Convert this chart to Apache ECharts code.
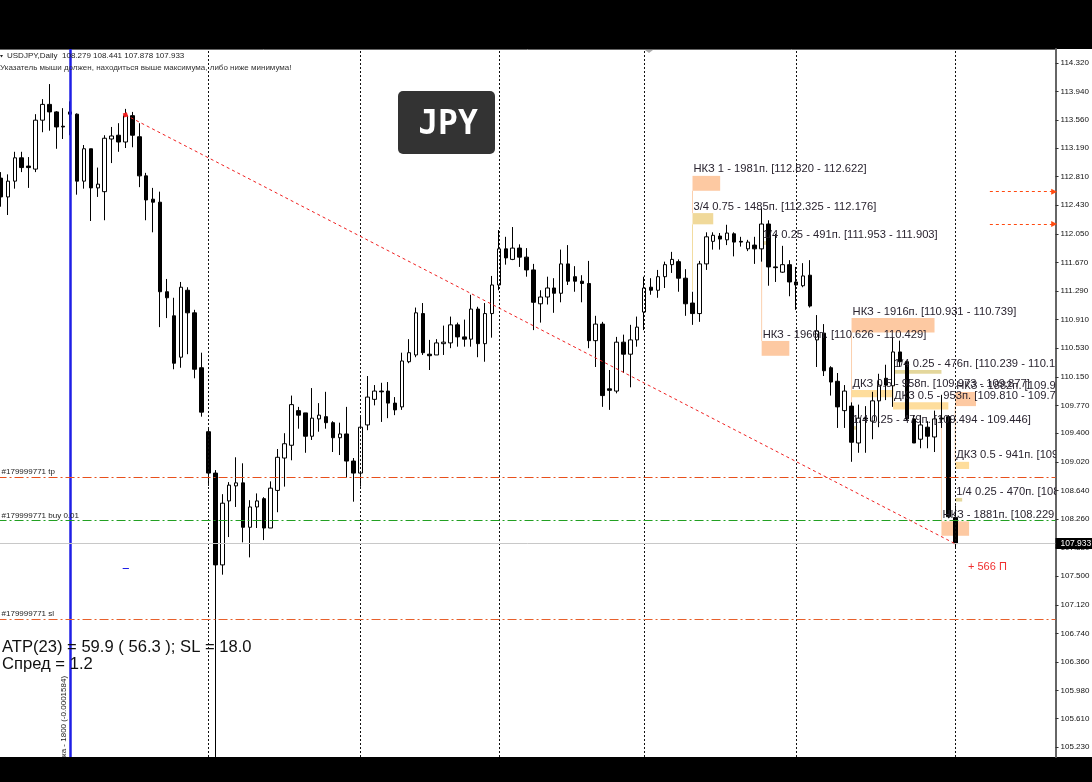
<!DOCTYPE html>
<html>
<head>
<meta charset="utf-8">
<title>USDJPY Daily</title>
<style>
  html, body { margin: 0; padding: 0; background: #000; }
  #chart { width: 1092px; height: 782px; }
</style>
<script src="https://cdn.jsdelivr.net/npm/echarts@6/dist/echarts.min.js"></script>
</head>
<body>
<div id="chart"></div>
<script>
// daily bars
var opens = [112.79,112.54,112.75,113.06,112.95,112.91,113.56,113.77,113.67,113.48,113.67,113.64,112.75,113.18,112.66,112.61,113.31,113.36,113.27,113.62,
  113.34,112.82,112.51,112.47,111.28,110.96,110.41,111.30,111.00,110.27,109.42,108.87,107.65,108.50,108.70,108.74,108.15,108.42,108.53,108.14,
  108.64,109.07,109.24,109.70,109.67,109.36,109.59,109.62,109.54,109.34,109.39,109.03,108.87,109.51,109.85,109.96,109.96,109.80,109.75,110.35,
  110.44,110.99,110.45,110.44,110.59,110.60,110.84,110.68,110.65,111.05,110.59,110.99,111.37,111.85,111.71,111.86,111.74,111.57,111.12,111.21,
  111.33,111.26,111.65,111.48,111.42,111.39,110.63,110.85,109.99,109.96,110.61,110.45,110.64,111.01,111.34,111.30,111.48,111.64,111.68,111.46,
  111.13,110.99,111.65,111.95,112.02,111.97,112.05,111.95,111.85,111.90,111.85,112.18,111.61,111.54,111.64,111.41,111.36,111.50,110.64,110.73,
  110.27,110.09,109.70,109.76,109.27,109.60,109.56,109.83,110.13,110.03,110.48,110.35,109.59,109.32,109.48,109.35,109.60,109.62,108.279];
var closes = [112.54,112.75,113.06,112.93,112.93,113.56,113.77,113.67,113.47,113.47,113.64,112.75,113.18,112.66,112.71,113.32,113.35,113.27,113.62,113.36,
  112.82,112.50,112.47,111.28,111.20,110.33,111.34,111.00,110.25,109.68,108.87,107.65,108.47,108.71,108.74,108.15,108.42,108.50,108.14,108.67,
  109.08,109.26,109.78,109.64,109.36,109.60,109.64,109.54,109.34,109.39,109.03,108.87,109.48,109.88,109.96,109.95,109.80,109.71,110.36,110.47,
  111.00,110.47,110.43,110.60,110.61,110.84,110.68,110.65,111.05,110.59,110.99,111.37,111.85,111.73,111.86,111.74,111.57,111.14,111.21,111.33,
  111.26,111.65,111.42,111.42,111.39,110.63,110.85,109.90,109.97,110.61,110.45,110.64,110.81,111.33,111.30,111.48,111.64,111.71,111.46,111.12,
  110.99,111.65,112.01,112.03,111.98,112.06,111.94,111.94,111.94,111.85,112.18,111.61,111.60,111.64,111.41,111.37,111.49,111.09,110.76,110.23,
  110.08,109.75,109.96,109.28,109.60,109.59,109.83,110.04,110.04,110.48,110.35,109.59,109.27,109.51,109.36,109.59,109.59,108.29,107.933];
var highs = [112.87,112.84,113.14,113.14,113.07,113.64,113.84,114.04,113.68,113.72,113.81,113.65,113.23,113.18,112.93,113.36,113.47,113.52,113.71,113.67,
  113.52,112.86,112.66,112.61,111.45,111.20,111.41,111.34,111.04,110.47,109.48,108.91,108.59,108.75,109.08,109.00,108.51,108.60,108.55,108.76,
  109.19,109.40,109.90,109.75,109.67,110.00,109.80,109.95,109.56,109.54,109.75,109.07,109.62,110.16,110.04,110.07,110.08,109.88,110.47,110.65,
  111.07,111.13,110.64,110.65,110.83,110.95,110.87,110.91,111.24,111.08,111.13,111.49,112.10,112.01,112.14,111.91,111.86,111.65,111.30,111.48,
  111.46,111.84,111.90,111.62,111.50,111.69,110.96,110.88,110.24,110.68,110.71,110.84,110.95,111.48,111.46,111.57,111.68,111.81,111.71,111.58,
  111.28,111.69,112.07,112.07,112.06,112.17,112.07,112.01,111.97,112.01,112.39,112.23,112.05,111.89,111.70,111.61,111.66,111.70,110.97,110.85,
  110.29,110.20,110.04,109.81,109.78,109.76,109.95,110.19,110.31,110.68,110.63,110.36,109.64,109.64,109.56,109.70,109.91,109.64,108.441];
var lows = [112.41,112.30,112.65,112.87,112.66,112.87,113.40,113.42,113.18,113.31,113.36,112.57,112.65,112.22,112.54,112.23,112.99,113.14,113.19,113.20,
  112.67,112.23,112.07,110.81,110.93,110.25,110.27,110.45,110.13,109.62,108.70,104.88,107.52,108.02,108.42,107.95,107.75,108.14,107.98,108.14,
  108.35,108.69,109.04,109.46,109.14,109.31,109.42,109.46,109.15,109.11,108.81,108.49,108.69,109.44,109.77,109.55,109.60,109.64,109.71,110.33,
  110.41,110.44,110.24,110.44,110.44,110.53,110.55,110.55,110.55,110.41,110.35,110.67,111.30,111.64,111.70,111.61,111.48,110.77,110.87,111.11,
  111.00,111.14,111.37,111.28,111.14,110.53,110.28,109.75,109.71,109.93,110.20,110.01,110.55,110.77,111.24,111.20,111.33,111.53,111.28,110.96,
  110.84,110.88,111.57,111.84,111.84,111.90,111.75,111.88,111.82,111.65,111.68,111.36,111.41,111.53,111.22,111.04,111.34,111.07,110.28,110.16,
  109.90,109.47,109.47,109.02,109.14,109.14,109.32,109.48,109.84,109.75,110.28,109.57,109.27,109.20,109.20,109.15,109.47,108.27,107.878];

var barCount = 153;
var categories = [];
for (var b = 0; b < barCount; b++) categories.push(String(b));

var tickLabels = [114.32,113.94,113.56,113.19,112.81,112.43,112.05,111.67,111.29,110.91,110.53,110.15,109.77,
  109.40,109.02,108.64,108.26,107.88,107.50,107.12,106.74,106.36,105.98,105.61,105.23];

// month separators and the blue marker, in bars
var monthBars = [30,52,72,93,115,138];
var markerBar = 10;

// order levels
var tpPrice = 108.82, buyPrice = 108.24, slPrice = 106.93, bidPrice = 107.933;

// zones
var zoneStarts = [100,100,110,110,123,129,123,138,129,123,138,138,136];
var zoneEnds   = [104,103,111,114,135,136,129,141,137,124,140,139,140];
var zoneTops    = [112.820,112.325,111.953,110.626,110.931,110.239,109.973,109.948,109.810,109.494,109.020,108.540,108.229];
var zoneBottoms = [112.622,112.176,111.903,110.429,110.739,110.191,109.877,109.760,109.714,109.446,108.925,108.492,108.037];
var zoneColors = ['#fdc9a2','#f0d99a','#e9dba6','#fdc9a2','#fdc9a2','#e4d79c','#fedd9c','#fdc9a2','#fedd9c','#e4d79c','#fedd9c','#e4d79c','#fdc9a2'];
var zoneLabels = [
  'НКЗ 1 - 1981п. [112.820 - 112.622]',
  '3/4 0.75 - 1485п. [112.325 - 112.176]',
  '1/4 0.25 - 491п. [111.953 - 111.903]',
  'НКЗ - 1966п. [110.626 - 110.429]',
  'НКЗ - 1916п. [110.931 - 110.739]',
  '1/4 0.25 - 476п. [110.239 - 110.191]',
  'ДКЗ 0.5 - 958п. [109.973 - 109.877]',
  'НКЗ - 1882п. [109.948 - 109.760]',
  'ДКЗ 0.5 - 953п. [109.810 - 109.714]',
  '1/4 0.25 - 479п. [109.494 - 109.446]',
  'ДКЗ 0.5 - 941п. [109.020 - 108.925]',
  '1/4 0.25 - 470п. [108.540 - 108.492]',
  'НКЗ - 1881п. [108.229 - 108.037]'
];

// thin lines tying zones together
var linkBars    = [100,100,110,123,129,136,138];
var linkTops    = [112.622,112.176,111.903,110.739,110.191,109.60,109.760];
var linkBottoms = [112.325,111.30,110.626,109.60,109.810,108.229,109.020];
var linkColors  = ['#fbd0ae','#f2dca0','#fbd0ae','#fbd0ae','#fbdcb0','#fbd0ae','#fbd0ae'];

var trendBars = [18,138], trendPrices = [113.63,107.93];
var targetPrices = [112.61,112.18];
var targetBars = [143,152.3];
var blueDashBars = [17.6,18.5], blueDashPrice = 107.61;

function vLine(x, color, width, dash) {
  return { xAxis: x, lineStyle: { color: color, width: width, type: dash } };
}
function orderLine(price, color, text) {
  return {
    yAxis: price,
    lineStyle: { color: color, width: 1, type: [9,3,2,3] },
    label: { show: true, position: 'insideStartTop', formatter: text, color: '#222', fontSize: 8, distance: 1,
      fontFamily: 'Liberation Sans', padding: [0,0,0,3] }
  };
}

var markLines = [];
monthBars.forEach(function (m) { markLines.push(vLine(m, '#111', 1, [2,2])); });
markLines.push(vLine(markerBar, '#1f1fe6', 2.5, 'solid'));
markLines.push(orderLine(tpPrice, '#e8501c', '#179999771 tp'));
markLines.push(orderLine(buyPrice, '#22a022', '#179999771 buy 0.01'));
markLines.push(orderLine(slPrice, '#e8602c', '#179999771 sl'));
markLines.push({
  yAxis: bidPrice,
  lineStyle: { color: '#c8c8c8', width: 1, type: 'solid' },
  label: { show: true, position: 'end', distance: 0, formatter: bidPrice.toFixed(3), color: '#fff', backgroundColor: '#000',
    fontSize: 8.5, fontFamily: 'Liberation Sans', padding: [1,6,1,5] }
});
markLines.push([
  { coord: [trendBars[0], trendPrices[0]], symbol: 'diamond', symbolSize: 6, lineStyle: { color: '#f02020', width: 1, type: [3,3] }, itemStyle: { color: '#f02020' } },
  { coord: [trendBars[1], trendPrices[1]], symbol: 'none' }
]);
targetPrices.forEach(function (p) {
  markLines.push([
    { coord: [targetBars[0], p], symbol: 'none', lineStyle: { color: '#ff4a10', width: 1, type: [3,3] }, itemStyle: { color: '#ff4a10' } },
    { coord: [targetBars[1], p], symbol: 'triangle', symbolSize: 6 }
  ]);
});
markLines.push([
  { coord: [blueDashBars[0], blueDashPrice], symbol: 'none', lineStyle: { color: '#1f1fe6', width: 1, type: 'solid' } },
  { coord: [blueDashBars[1], blueDashPrice], symbol: 'none' }
]);

var chart = echarts.init(document.getElementById('chart'), null, { renderer: 'canvas' });

var option = {
  animation: false,
  backgroundColor: '#000',
  grid: { left: -2.46, top: 49, width: 1058, height: 708, containLabel: false, outerBoundsMode: 'none' },
  xAxis: [
    { type: 'category', data: categories, position: 'top', boundaryGap: true,
      axisLine: { show: true, lineStyle: { color: '#666', width: 1 } }, axisTick: { show: false }, axisLabel: { show: false }, splitLine: { show: false } },
    { type: 'value', min: -0.5, max: barCount - 0.5, show: false, splitLine: { show: false } }
  ],
  yAxis: {
    type: 'value', position: 'right', min: 105.097, max: 114.506,
    axisLine: { show: true, onZero: false, lineStyle: { color: '#666', width: 2 } },
    axisTick: { show: true, length: 3, customValues: tickLabels, lineStyle: { color: '#333' } },
    axisLabel: { customValues: tickLabels, margin: 5, fontSize: 8, color: '#111', fontFamily: 'Liberation Sans',
      formatter: function (v) { return v.toFixed(3); } },
    splitLine: { show: false }
  },
  series: [
    {
      type: 'custom', name: 'links', xAxisIndex: 1, z: 1, clip: true, silent: true,
      data: linkBars.map(function (x, i) { return [x, linkTops[i]]; }),
      renderItem: function (params, api) {
        var i = params.dataIndex;
        var a = api.coord([linkBars[i], linkTops[i]]);
        var c = api.coord([linkBars[i], linkBottoms[i]]);
        return { type: 'line', shape: { x1: a[0], y1: a[1], x2: c[0], y2: c[1] }, style: { stroke: linkColors[i], lineWidth: 1 } };
      }
    },
    {
      type: 'custom', name: 'zones', xAxisIndex: 1, z: 1, clip: true, silent: true,
      data: zoneStarts.map(function (x, i) { return [x, zoneTops[i]]; }),
      renderItem: function (params, api) {
        var i = params.dataIndex;
        var a = api.coord([zoneStarts[i], zoneTops[i]]);
        var c = api.coord([zoneEnds[i], zoneBottoms[i]]);
        return { type: 'rect', shape: { x: a[0], y: a[1], width: c[0] - a[0], height: c[1] - a[1] }, style: { fill: zoneColors[i] } };
      }
    },
    {
      type: 'candlestick', name: 'USDJPY', xAxisIndex: 0, z: 2, barWidth: 4, silent: true,
      data: opens.map(function (o, i) { return [o, closes[i], lows[i], highs[i]]; }),
      itemStyle: { color: '#fff', color0: '#000', borderColor: '#000', borderColor0: '#000', borderWidth: 1 }
    },
    {
      type: 'custom', name: 'zone labels', xAxisIndex: 1, z: 6, clip: true, silent: true,
      data: zoneStarts.map(function (x, i) { return [x, zoneTops[i]]; }),
      renderItem: function (params, api) {
        var i = params.dataIndex;
        var a = api.coord([zoneStarts[i], zoneTops[i]]);
        return { type: 'text', style: { x: a[0] + 1, y: a[1] - 1, text: zoneLabels[i], fill: '#2a2430',
          font: '11.2px "Liberation Sans"', textAlign: 'left', textVerticalAlign: 'bottom' } };
      },
      markLine: { silent: true, symbol: 'none', animation: false, precision: 3, label: { show: false }, data: markLines }
    }
  ],
  graphic: { elements: [
    { type: 'rect', z: -10, silent: true, shape: { x: 0, y: 49, width: 1092, height: 708 }, style: { fill: '#fff' } },
    { type: 'polygon', z: 21, silent: true, shape: { points: [[645,50],[653,50],[649,53]] }, style: { fill: '#aaa' } },
    { type: 'polygon', z: 21, silent: true, shape: { points: [[0,55],[3,55],[1.5,57.5]] }, style: { fill: '#222' } },
    { type: 'rect', z: 20, silent: true, shape: { x: 398, y: 91, width: 97, height: 63, r: 5 }, style: { fill: '#333' } },
    { type: 'text', z: 21, silent: true, x: 448, y: 125, style: { text: 'JPY', fill: '#fff', font: 'bold 33px "DejaVu Sans Mono"', textAlign: 'center', textVerticalAlign: 'middle' } },
    { type: 'text', z: 21, silent: true, x: 7, y: 56, style: { text: 'USDJPY,Daily  108.279 108.441 107.878 107.933', fill: '#222', font: '8px "Liberation Sans"', textVerticalAlign: 'middle' } },
    { type: 'text', z: 21, silent: true, x: 0, y: 67.5, style: { text: 'Указатель мыши должен, находиться выше максимума, либо ниже минимума!', fill: '#333', font: '8px "Liberation Sans"', textVerticalAlign: 'middle' } },
    { type: 'text', z: 21, silent: true, x: 2, y: 647, style: { text: 'АТР(23) = 59.9 ( 56.3 ); SL = 18.0', fill: '#111', font: '16.6px "Liberation Sans"', textVerticalAlign: 'middle' } },
    { type: 'text', z: 21, silent: true, x: 2, y: 664, style: { text: 'Спред = 1.2', fill: '#111', font: '16.6px "Liberation Sans"', textVerticalAlign: 'middle' } },
    { type: 'text', z: 21, silent: true, x: 968, y: 567, style: { text: '+ 566 П', fill: '#f03030', font: '11px "Liberation Sans"', textVerticalAlign: 'middle' } },
    { type: 'text', z: 21, silent: true, x: 64, y: 757, rotation: Math.PI / 2, style: { text: 'ка - 1800 (-0.0001584)', fill: '#222', font: '8px "Liberation Sans"', textAlign: 'left', textVerticalAlign: 'middle' } }
  ] }
};

chart.setOption(option);

window.addEventListener('resize', function () {
  chart.resize();
});
</script>
</body>
</html>
